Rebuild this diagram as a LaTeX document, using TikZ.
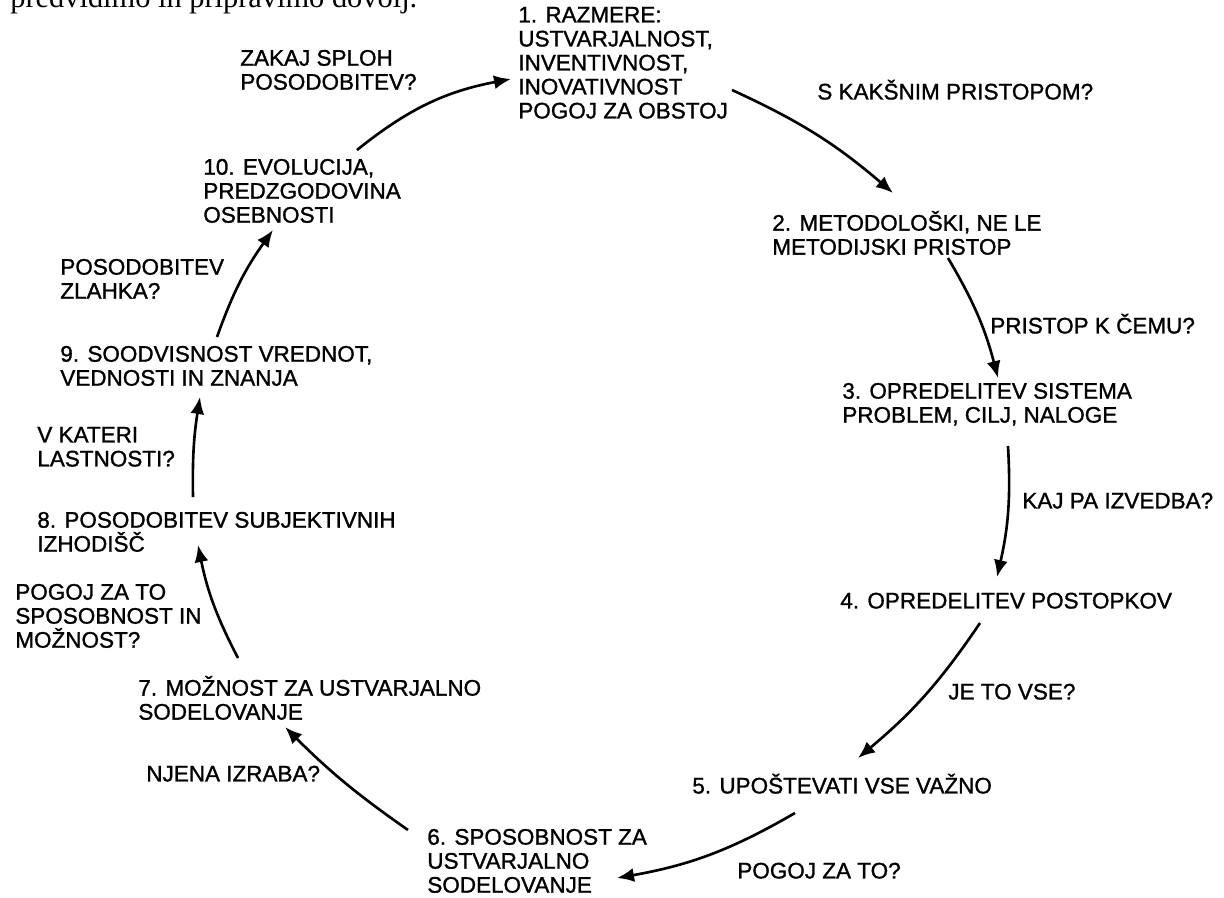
\documentclass[tikz,border=0pt]{standalone}
\usepackage{fontspec}
\setmainfont{Liberation Serif}
\newfontfamily\labelsans{Liberation Sans}[FakeBold=1.2]
\usetikzlibrary{arrows.meta}
\begin{document}
\begin{tikzpicture}[x=0.02cm,y=0.02cm,
  txt/.style={anchor=north west, inner sep=0pt, align=left,
    font=\labelsans\fontsize{12.8pt}{13.66pt}\selectfont,
    execute at begin node={\rule{0pt}{12.8pt}}},
  flow/.style={line width=1.5pt, -{Latex[length=3.4mm,width=2.8mm]}, bend left=#1},
  flow/.default=8]
\useasboundingbox (0,0) rectangle (1224,-897);
\clip (0,0) rectangle (1224,-897);

% end of the preceding paragraph of body text
\node[anchor=base west, inner sep=0pt, font=\fontsize{17.3pt}{20pt}\selectfont]
  (body) at (10,-7) {predvidimo in pripravimo dovolj.};

% stations of the cycle
\node[txt] (n1)  at (518,-6.6)   {1. RAZMERE:\\USTVARJALNOST,\\INVENTIVNOST,\\INOVATIVNOST\\POGOJ ZA OBSTOJ};
\node[txt] (n2)  at (772,-210.6) {2. METODOLOŠKI, NE LE\\METODIJSKI PRISTOP};
\node[txt] (n3)  at (842,-382.6) {3. OPREDELITEV SISTEMA\\PROBLEM, CILJ, NALOGE};
\node[txt] (n4)  at (840,-585.6) {4. OPREDELITEV POSTOPKOV};
\node[txt] (n5)  at (692,-770.6) {5. UPOŠTEVATI VSE VAŽNO};
\node[txt] (n6)  at (427,-828.6) {6. SPOSOBNOST ZA\\USTVARJALNO\\SODELOVANJE};
\node[txt] (n7)  at (138,-675.6) {7. MOŽNOST ZA USTVARJALNO\\SODELOVANJE};
\node[txt] (n8)  at (37,-511.6)  {8. POSODOBITEV SUBJEKTIVNIH\\IZHODIŠČ};
\node[txt] (n9)  at (60,-345.6)  {9. SOODVISNOST VREDNOT,\\VEDNOSTI IN ZNANJA};
\node[txt] (n10) at (203,-158.6) {10. EVOLUCIJA,\\PREDZGODOVINA\\OSEBNOSTI};

% questions along the arrows
\node[txt] (q1)  at (240,-49.6)  {ZAKAJ SPLOH\\POSODOBITEV?};
\node[txt] (q2)  at (817,-76.6)  {S KAKŠNIM PRISTOPOM?};
\node[txt] (q3)  at (990,-310.6) {PRISTOP K ČEMU?};
\node[txt] (q4)  at (1022,-485.6){KAJ PA IZVEDBA?};
\node[txt] (q5)  at (948,-676.6) {JE TO VSE?};
\node[txt] (q6)  at (737,-855.6) {POGOJ ZA TO?};
\node[txt] (q7)  at (146,-758.6) {NJENA IZRABA?};
\node[txt] (q8)  at (15,-583.6)  {POGOJ ZA TO\\SPOSOBNOST IN\\MOŽNOST?};
\node[txt] (q9)  at (37,-426.6)  {V KATERI\\LASTNOSTI?};
\node[txt] (q10) at (60,-258.6)  {POSODOBITEV\\ZLAHKA?};

% arrow ends next to the stations
\coordinate (n1-out)  at (732,-90);   \coordinate (n2-in)  at (893,-193);
\coordinate (n2-out)  at (948,-258);  \coordinate (n3-in)  at (998,-378);
\coordinate (n3-out)  at (1008,-446); \coordinate (n4-in)  at (997,-577);
\coordinate (n4-out)  at (980,-623);  \coordinate (n5-in)  at (858,-758);
\coordinate (n5-out)  at (795,-813);  \coordinate (n6-in)  at (617,-878);
\coordinate (n6-out)  at (408,-830);  \coordinate (n7-in)  at (285,-727);
\coordinate (n7-out)  at (238,-658);  \coordinate (n8-in)  at (198,-545);
\coordinate (n8-out)  at (193,-497);  \coordinate (n9-in)  at (200,-397);
\coordinate (n9-out)  at (217,-337);  \coordinate (n10-in) at (273,-230);
\coordinate (n10-out) at (357,-150);  \coordinate (n1-in)  at (511,-79);

% the cycle, clockwise
\draw[flow=8]  (n1-out)  to (n2-in);
\draw[flow=8]  (n2-out)  to (n3-in);
\draw[flow=8]  (n3-out)  to (n4-in);
\draw[flow=8]  (n4-out)  to (n5-in);
\draw[flow=10] (n5-out)  to (n6-in);
\draw[flow=5]  (n6-out)  to (n7-in);
\draw[flow=8]  (n7-out)  to (n8-in);
\draw[flow=5]  (n8-out)  to (n9-in);
\draw[flow=8]  (n9-out)  to (n10-in);
\draw[flow=14] (n10-out) to (n1-in);
\end{tikzpicture}
\end{document}
